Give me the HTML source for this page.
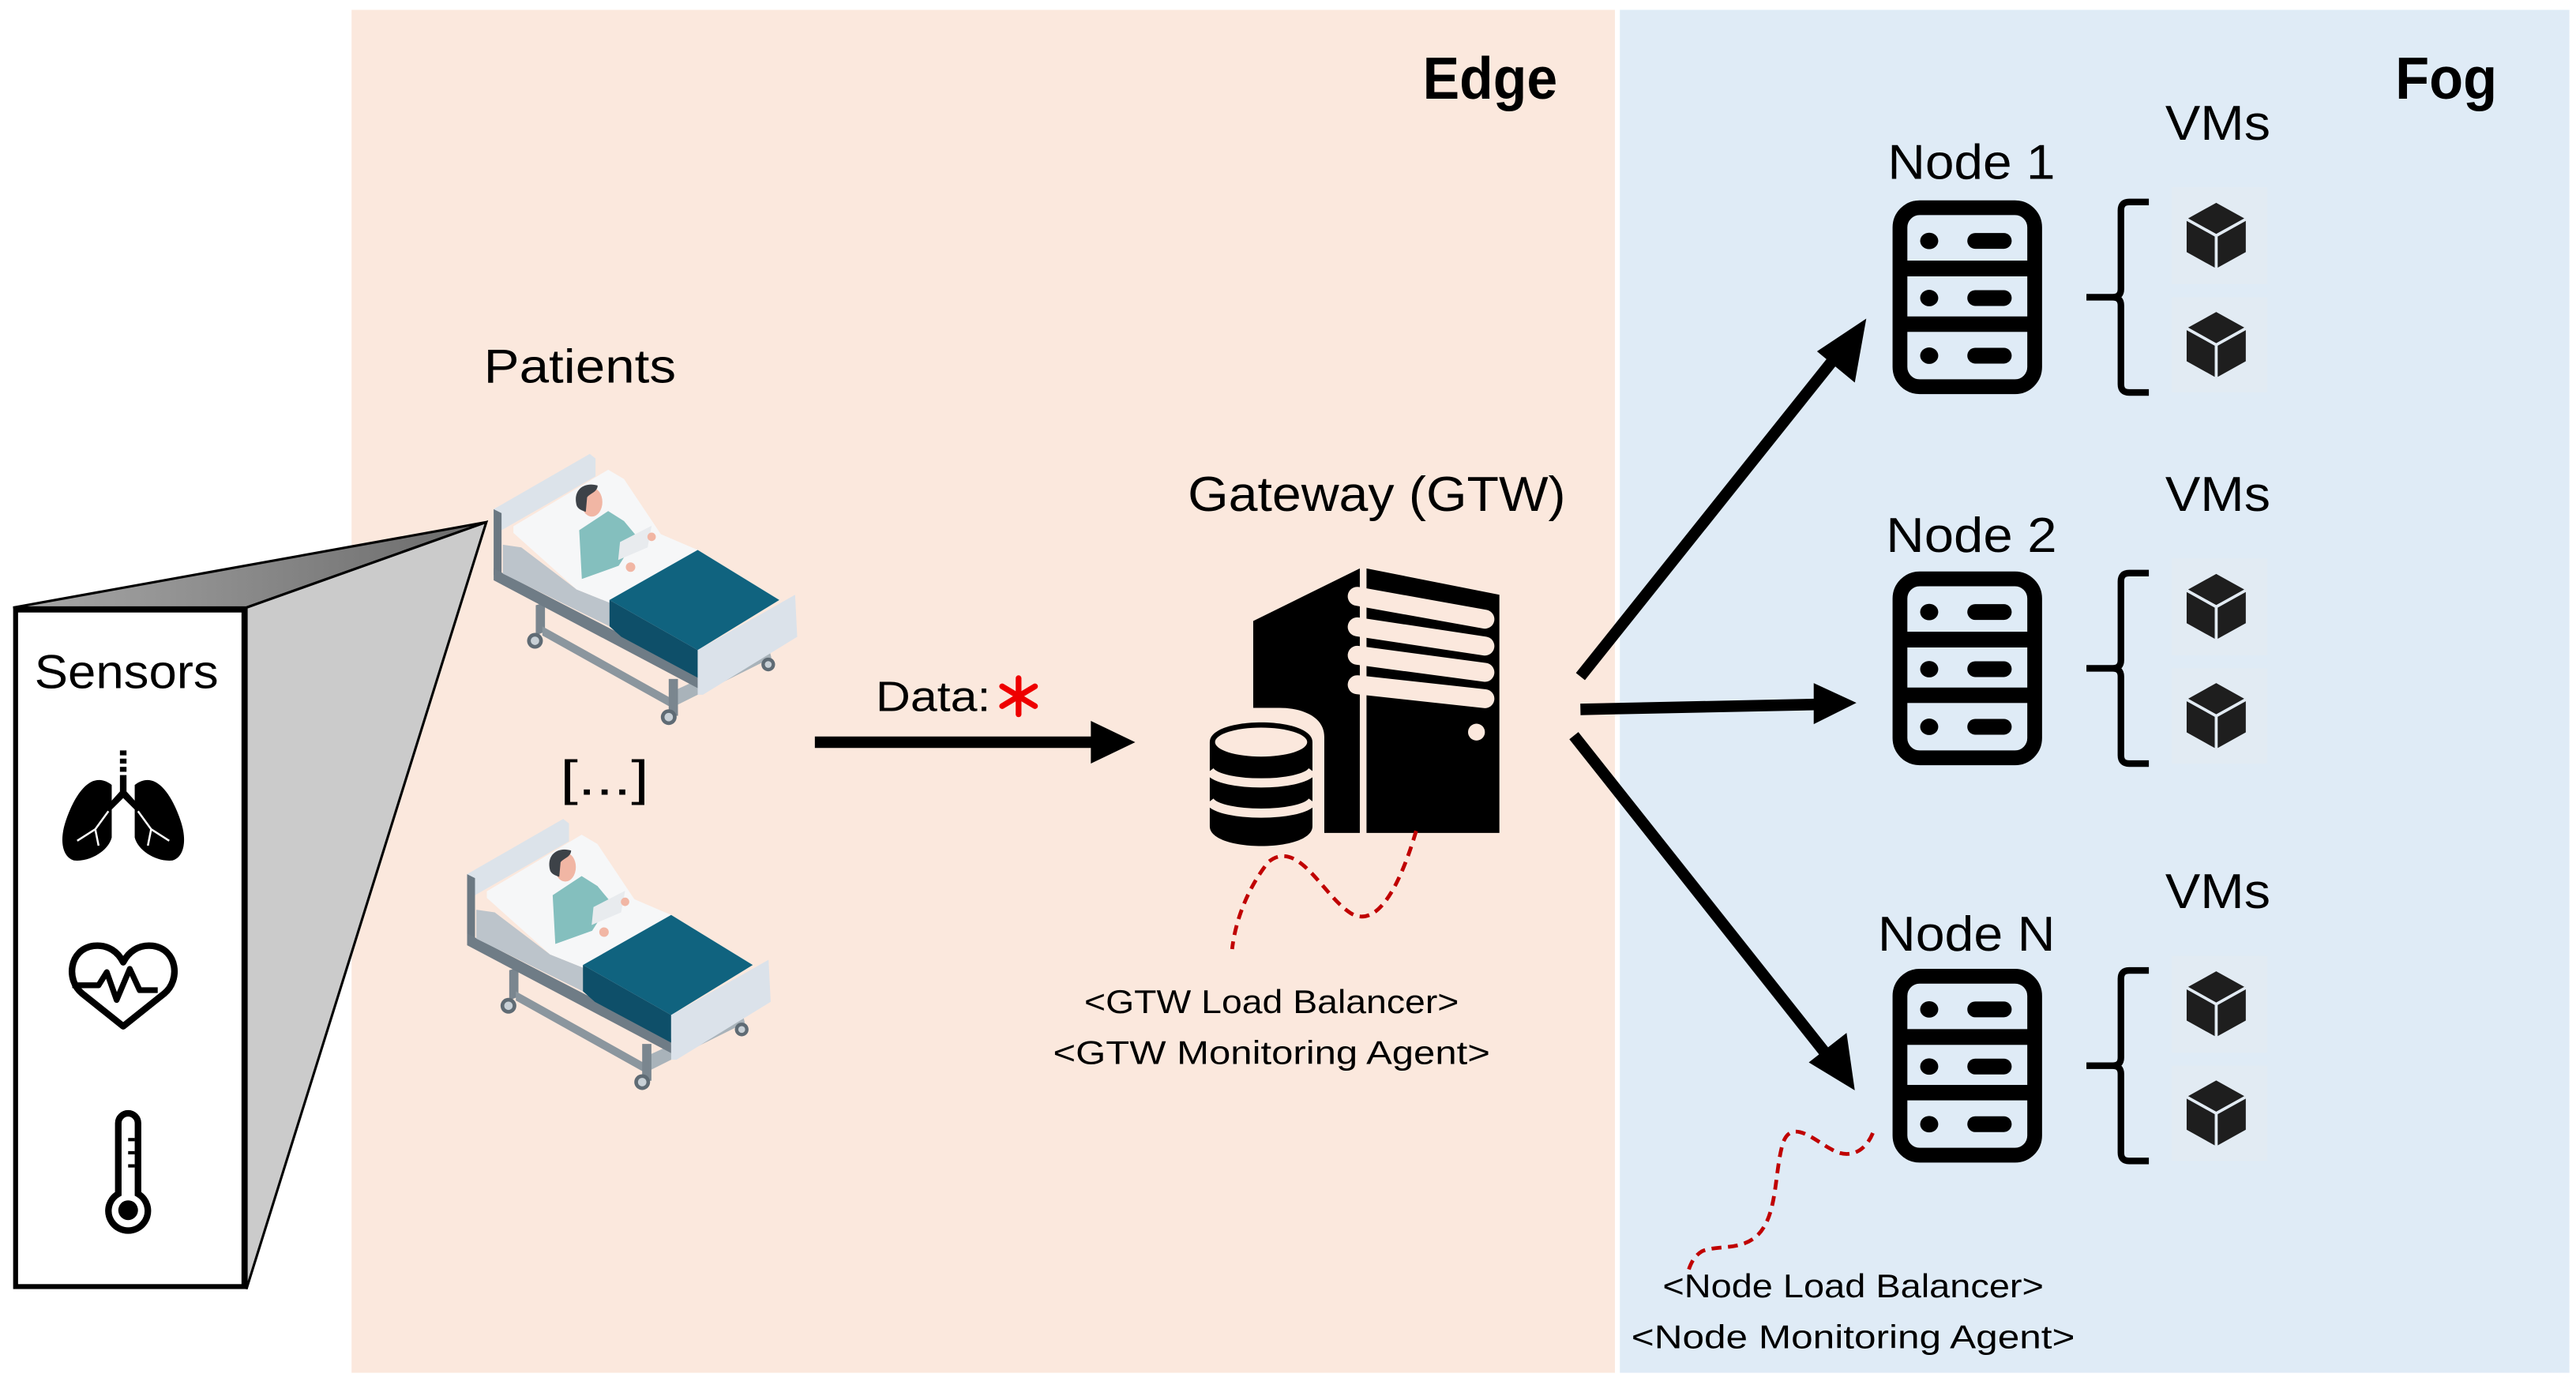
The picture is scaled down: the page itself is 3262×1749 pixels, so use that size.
<!DOCTYPE html>
<html><head><meta charset="utf-8"><style>
html,body{margin:0;padding:0;background:#fff;}
svg{display:block;}
text{font-family:"Liberation Sans",sans-serif;fill:#000;}
</style></head><body>
<svg width="3262" height="1749" viewBox="0 0 1568 841" preserveAspectRatio="none" xmlns="http://www.w3.org/2000/svg">
<defs>
<linearGradient id="tg" x1="0" y1="0" x2="1" y2="0"><stop offset="0" stop-color="#a8a8a8"/><stop offset="1" stop-color="#6a6a6a"/></linearGradient>
<g id="bed">
  <polygon points="105,255 470,45 492,62 492,130 135,335 105,320" fill="#dce3ea"/>
  <polygon points="265,620 300,610 300,720 265,735" fill="#7a868f"/>
  <polygon points="290,700 800,985 800,1020 290,735" fill="#8b969e"/>
  <polygon points="800,940 1150,780 1160,820 800,1000" fill="#a9b3ba"/>
  <polygon points="770,900 805,900 805,1040 770,1040" fill="#7a868f"/>
  <circle cx="262" cy="755" r="30" fill="#5f6b74"/><circle cx="262" cy="755" r="16" fill="#c8d0d6"/>
  <circle cx="770" cy="1045" r="30" fill="#5f6b74"/><circle cx="770" cy="1045" r="16" fill="#c8d0d6"/>
  <circle cx="1148" cy="845" r="26" fill="#5f6b74"/><circle cx="1148" cy="845" r="13" fill="#c8d0d6"/>
  <polygon points="105,255 135,270 135,500 105,505" fill="#6b7882"/>
  <polygon points="105,480 880,880 880,935 105,525" fill="#6f7c86"/>
  <polygon points="140,390 210,400 420,560 545,610 545,700 140,500" fill="#bcc4cb"/>
  <polygon points="180,320 540,105 600,140 740,350 880,410 1190,600 880,790 545,610 420,560 180,345" fill="#f6f7f8"/>
  <polygon points="545,600 880,410 1190,600 880,790" fill="#10637f"/>
  <polygon points="545,600 880,790 880,895 590,740 545,700" fill="#0e4f69"/>
  <polygon points="880,790 1250,580 1258,740 900,960 880,960" fill="#dbe2ea"/>
  <polygon points="430,335 540,262 600,300 650,360 580,470 440,520" fill="#84bfbe"/>
  <polygon points="585,380 705,318 690,400 578,448" fill="#e8ebee"/>
  <circle cx="705" cy="360" r="16" fill="#f1b6a4"/>
  <circle cx="625" cy="475" r="18" fill="#f1b6a4"/>
  <ellipse cx="478" cy="228" rx="40" ry="55" fill="#f1b6a4"/>
  <path d="M420,240 C405,180 450,150 500,165 C500,190 470,195 460,210 L455,265 C440,260 425,255 420,240 Z" fill="#3d4248"/>
</g>
<g id="node">
  <rect x="1156.5" y="126.5" width="82" height="109" rx="12" fill="none" stroke="#000" stroke-width="9"/>
  <rect x="1156" y="158.7" width="83" height="9.6" fill="#000"/>
  <rect x="1156" y="192.7" width="83" height="9.4" fill="#000"/>
  <ellipse cx="1174.3" cy="146.7" rx="5.5" ry="5" fill="#000"/>
  <rect x="1197.5" y="141.9" width="27" height="9.6" rx="4.8" fill="#000"/>
  <ellipse cx="1174.3" cy="181.5" rx="5.5" ry="5" fill="#000"/>
  <rect x="1197.5" y="176.7" width="27" height="9.6" rx="4.8" fill="#000"/>
  <ellipse cx="1174.3" cy="216.6" rx="5.5" ry="5" fill="#000"/>
  <rect x="1197.5" y="211.8" width="27" height="9.6" rx="4.8" fill="#000"/>
  <path d="M1308,123 L1296,123 Q1291,123 1291,128 L1291,176 Q1291,181 1286,181 L1270,181 M1286,181 Q1291,181 1291,186 L1291,234 Q1291,239 1296,239 L1308,239" fill="none" stroke="#000" stroke-width="4"/>
  <rect x="1322" y="114" width="58" height="59" fill="#e2ebf3"/>
  <rect x="1322" y="181" width="58" height="58" fill="#e2ebf3"/>
  <g transform="translate(1349,143.5)"><polygon points="0,-20 18,-10 18,10 0,20 -18,10 -18,-10" fill="#1e1e1e"/><polyline points="-18,-10 0,0 18,-10" fill="none" stroke="#e2ebf3" stroke-width="1.8"/><line x1="0" y1="0" x2="0" y2="20" stroke="#e2ebf3" stroke-width="1.8"/></g>
  <g transform="translate(1349,210)"><polygon points="0,-20 18,-10 18,10 0,20 -18,10 -18,-10" fill="#1e1e1e"/><polyline points="-18,-10 0,0 18,-10" fill="none" stroke="#e2ebf3" stroke-width="1.8"/><line x1="0" y1="0" x2="0" y2="20" stroke="#e2ebf3" stroke-width="1.8"/></g>
</g>
</defs>

<rect x="0" y="0" width="1568" height="841" fill="#fff"/>
<rect x="214" y="6" width="769" height="830" fill="#fbe8dd"/>
<rect x="986" y="6" width="578" height="830" fill="#dfebf6"/>

<text x="948" y="60" font-size="36" font-weight="bold" text-anchor="end" textLength="82" lengthAdjust="spacingAndGlyphs">Edge</text>
<text x="1520" y="60" font-size="36" font-weight="bold" text-anchor="end" textLength="62" lengthAdjust="spacingAndGlyphs">Fog</text>

<polygon points="8,370 296,318 150,370" fill="url(#tg)" stroke="#000" stroke-width="1.5"/>
<polygon points="150,370 296,318 150,785" fill="#cbcbcb" stroke="#000" stroke-width="1.5"/>
<rect x="9.5" y="371.5" width="139" height="412" fill="#fff" stroke="#000" stroke-width="3"/>
<text x="77" y="419" font-size="29" text-anchor="middle" textLength="112" lengthAdjust="spacingAndGlyphs">Sensors</text>
<g fill="#000">
  <rect x="73" y="457" width="4" height="3"/><rect x="73" y="462" width="4" height="3"/><rect x="73" y="467" width="4" height="3"/>
  <path d="M73,472 L73,482 L64,492 L66,495 L75,486 L84,495 L86,492 L77,482 L77,472 Z"/>
  <path d="M68,478 C55,468 45,485 40,500 C36,512 38,522 45,524 C55,525 66,518 68,510 Z"/>
  <path d="M82,478 C95,468 105,485 110,500 C114,512 112,522 105,524 C95,525 84,518 82,510 Z"/>
</g>
<g stroke="#fff" stroke-width="1.2" fill="none">
  <path d="M66,494 L58,505 L47,512 M58,505 L60,515"/>
  <path d="M84,494 L92,505 L103,512 M92,505 L90,515"/>
</g>
<path d="M75,625 L50,605 C40,597 42,578 57,576 C66,575 72,580 75,586 C78,580 84,575 93,576 C108,578 110,597 100,605 Z" fill="none" stroke="#000" stroke-width="4" stroke-linejoin="round"/>
<polyline points="44,600 60,600 65,592 71,609 79,590 85,603 96,603" fill="#fff" stroke="#000" stroke-width="3.5" stroke-linejoin="round"/>
<path d="M72,727 L72,684 A6,6 0 0 1 84,684 L84,727 A12,12 0 1 1 72,727 Z" fill="none" stroke="#000" stroke-width="4"/>
<circle cx="78" cy="737" r="6" fill="#000"/>
<line x1="78" y1="694" x2="82" y2="694" stroke="#000" stroke-width="2"/>
<line x1="78" y1="702" x2="82" y2="702" stroke="#000" stroke-width="2"/>
<line x1="78" y1="710" x2="82" y2="710" stroke="#000" stroke-width="2"/>

<text x="353" y="233" font-size="29" text-anchor="middle" textLength="117" lengthAdjust="spacingAndGlyphs">Patients</text>
<use href="#bed" transform="translate(283.65,269.23) scale(0.16026)"/>
<use href="#bed" transform="translate(267.5,491.5) scale(0.16026)"/>
<text x="368" y="484" font-size="30" text-anchor="middle" textLength="54" lengthAdjust="spacingAndGlyphs">[...]</text>

<text x="533" y="433" font-size="26" textLength="70" lengthAdjust="spacingAndGlyphs">Data:</text>
<g stroke="#ee0000" stroke-width="3.5" stroke-linecap="round">
  <line x1="620" y1="413" x2="620" y2="435"/>
  <line x1="610" y1="418" x2="630" y2="430"/>
  <line x1="630" y1="418" x2="610" y2="430"/>
</g>
<line x1="496" y1="452" x2="668" y2="452" stroke="#000" stroke-width="7"/>
<polygon points="664,439 691,452 664,465" fill="#000"/>

<text x="838" y="311" font-size="30" text-anchor="middle" textLength="230" lengthAdjust="spacingAndGlyphs">Gateway (GTW)</text>
<g transform="translate(711.54,336.54) scale(0.16026)">
  <path d="M320,260 L725,60 L725,1065 L590,1065 L590,700 C590,620 500,590 420,590 L320,590 Z" fill="#000"/>
  <path d="M750,60 L1255,160 L1255,1065 L750,1065 Z" fill="#000"/>
  <g stroke="#fbe8dd" stroke-width="72" stroke-linecap="round" fill="none">
    <line x1="715" y1="166" x2="1200" y2="253"/>
    <line x1="715" y1="282" x2="1200" y2="355"/>
    <line x1="715" y1="390" x2="1200" y2="455"/>
    <line x1="715" y1="502" x2="1200" y2="555"/>
  </g>
  <rect x="725" y="40" width="25" height="1040" fill="#fbe8dd"/>
  <circle cx="1168" cy="682" r="32" fill="#fbe8dd"/>
  <path d="M155,720 C155,620 545,620 545,720 L545,1040 C545,1140 155,1140 155,1040 Z" fill="#000"/>
  <ellipse cx="350" cy="720" rx="175" ry="55" fill="#fbe8dd"/>
  <path d="M155,830 C200,890 500,890 545,830" fill="none" stroke="#fbe8dd" stroke-width="35"/>
  <path d="M155,945 C200,1005 500,1005 545,945" fill="none" stroke="#fbe8dd" stroke-width="35"/>
</g>
<path d="M862,506 C852,540 838,566 822,556 C805,545 790,510 772,525 C760,540 752,560 750,578" fill="none" stroke="#c00000" stroke-width="2.3" stroke-dasharray="6,4"/>
<text x="774" y="617" font-size="20" text-anchor="middle" textLength="228" lengthAdjust="spacingAndGlyphs">&lt;GTW Load Balancer&gt;</text>
<text x="774" y="648" font-size="20" text-anchor="middle" textLength="266" lengthAdjust="spacingAndGlyphs">&lt;GTW Monitoring Agent&gt;</text>

<line x1="962" y1="412" x2="1120" y2="214" stroke="#000" stroke-width="7"/>
<polygon points="1136,194 1129,233 1106,214" fill="#000"/>
<line x1="962" y1="432" x2="1105" y2="429" stroke="#000" stroke-width="7"/>
<polygon points="1130,428 1104,441 1104,416" fill="#000"/>
<line x1="958" y1="448" x2="1114" y2="645" stroke="#000" stroke-width="7"/>
<polygon points="1129,664 1101,647 1124,629" fill="#000"/>

<text x="1200" y="109" font-size="30" text-anchor="middle" textLength="102" lengthAdjust="spacingAndGlyphs">Node 1</text>
<text x="1350" y="85" font-size="30" text-anchor="middle" textLength="64" lengthAdjust="spacingAndGlyphs">VMs</text>
<use href="#node"/>
<text x="1200" y="336" font-size="30" text-anchor="middle" textLength="104" lengthAdjust="spacingAndGlyphs">Node 2</text>
<text x="1350" y="311" font-size="30" text-anchor="middle" textLength="64" lengthAdjust="spacingAndGlyphs">VMs</text>
<use href="#node" transform="translate(0,226)"/>
<text x="1197" y="579" font-size="30" text-anchor="middle" textLength="108" lengthAdjust="spacingAndGlyphs">Node N</text>
<text x="1350" y="553" font-size="30" text-anchor="middle" textLength="64" lengthAdjust="spacingAndGlyphs">VMs</text>
<use href="#node" transform="translate(0,468)"/>

<path d="M1140,690 C1135,702 1125,706 1115,700 C1105,695 1090,680 1085,697 C1080,715 1082,740 1070,752 C1060,762 1045,758 1036,762 C1031,765 1029,770 1028,773" fill="none" stroke="#c00000" stroke-width="2.3" stroke-dasharray="6,4"/>
<text x="1128" y="790" font-size="20" text-anchor="middle" textLength="232" lengthAdjust="spacingAndGlyphs">&lt;Node Load Balancer&gt;</text>
<text x="1128" y="821" font-size="20" text-anchor="middle" textLength="270" lengthAdjust="spacingAndGlyphs">&lt;Node Monitoring Agent&gt;</text>
</svg>
</body></html>
